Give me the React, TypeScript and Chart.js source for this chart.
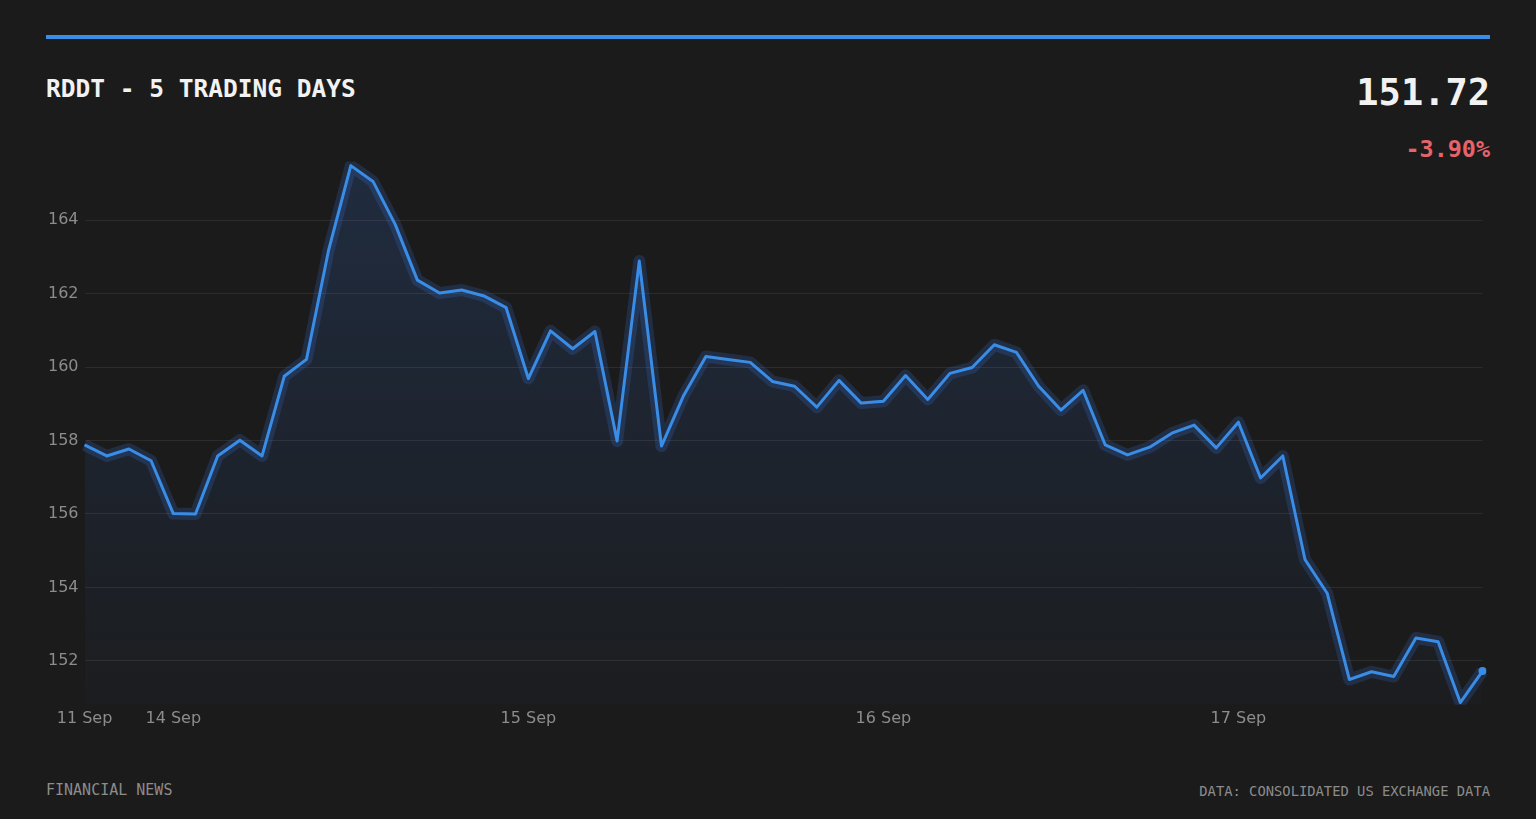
import { useEffect, useRef } from "react"
import { Chart, registerables } from "chart.js"

Chart.register(...registerables)

// intraday closes, 64 samples across 5 sessions
const prices = [
  157.88, 157.58, 157.77, 157.45, 156.01, 156.0, 157.58, 158.01, 157.58, 159.75,
  160.21, 163.19, 165.49, 165.06, 163.89, 162.37, 162.02, 162.1, 161.94, 161.62,
  159.69, 160.99, 160.5, 160.97, 157.99, 162.89, 157.85, 159.23, 160.29, 160.21,
  160.13, 159.61, 159.48, 158.91, 159.64, 159.02, 159.07, 159.77, 159.12, 159.83,
  159.99, 160.61, 160.4, 159.48, 158.83, 159.37, 157.88, 157.61, 157.82, 158.2,
  158.42, 157.8, 158.5, 156.98, 157.58, 154.76, 153.84, 151.49, 151.7, 151.57,
  152.62, 152.52, 150.86, 151.72,
]

const dayLabels = ["11 Sep", "14 Sep", "15 Sep", "16 Sep", "17 Sep"]
const dayStartIndex = [0, 4, 20, 36, 52]

const lastPrice = "151.72"
const changePct = "-3.90%"

const BLUE = "#3a8de6"
const BG = "#1b1b1b"
const MONO = "'DejaVu Sans Mono', monospace"

export default function App() {
  const chartRef = useRef<HTMLCanvasElement>(null)
  const chartInstance = useRef<Chart | null>(null)

  useEffect(() => {
    document.body.style.margin = "0"
    document.body.style.background = BG
  }, [])

  useEffect(() => {
    if (!chartRef.current) return
    const ctx = chartRef.current.getContext("2d")
    if (!ctx) return

    if (chartInstance.current) {
      chartInstance.current.destroy()
    }

    const labels = prices.map((_, i) => {
      const k = dayStartIndex.indexOf(i)
      return k >= 0 ? dayLabels[k] : ""
    })
    const last = prices.length - 1

    chartInstance.current = new Chart(ctx, {
      type: "line",
      data: {
        labels,
        datasets: [
          {
            // main line with area fill
            data: prices,
            borderColor: BLUE,
            borderWidth: 3,
            borderJoinStyle: "round",
            tension: 0,
            fill: "start",
            backgroundColor: (c: any) => {
              const area = c.chart.chartArea
              if (!area) return "rgba(59,130,246,0.1)"
              const g = c.chart.ctx.createLinearGradient(0, area.top, 0, area.bottom)
              g.addColorStop(0, "rgba(59,130,246,0.17)")
              g.addColorStop(1, "rgba(59,130,246,0.02)")
              return g
            },
            pointRadius: (c: any) => (c.dataIndex === last ? 4 : 0),
            pointBackgroundColor: BLUE,
            pointBorderWidth: 0,
            order: 1,
          },
          {
            // soft glow under the line
            data: prices,
            borderColor: "rgba(59,130,246,0.18)",
            borderWidth: 12,
            borderJoinStyle: "round",
            tension: 0,
            fill: false,
            pointRadius: 0,
            order: 2,
          },
        ],
      },
      options: {
        responsive: true,
        maintainAspectRatio: false,
        animation: false,
        layout: { padding: { top: 9, right: 8, left: 0, bottom: 4 } },
        plugins: {
          legend: { display: false },
          tooltip: { enabled: false },
        },
        scales: {
          x: {
            grid: { display: false, drawTicks: false },
            border: { display: false },
            ticks: {
              autoSkip: false,
              maxRotation: 0,
              padding: 4,
              color: "#8c8c8c",
              font: { family: "'DejaVu Sans', sans-serif", size: 16 },
            },
          },
          y: {
            min: 150.8,
            max: 165.6,
            afterBuildTicks: (scale: any) => {
              scale.ticks = []
              for (let v = 152; v <= 164; v += 2) scale.ticks.push({ value: v })
            },
            grid: { color: "rgba(255,255,255,0.08)", drawTicks: false },
            border: { display: false },
            ticks: {
              padding: 6,
              color: "#8c8c8c",
              font: { family: "'DejaVu Sans', sans-serif", size: 16 },
            },
          },
        },
      },
    })

    return () => {
      if (chartInstance.current) {
        chartInstance.current.destroy()
        chartInstance.current = null
      }
    }
  }, [])

  return (
    <div style={{ position: "relative", width: 1536, height: 819, background: BG, overflow: "hidden" }}>
      <div style={{ position: "absolute", left: 46, top: 35, width: 1444, height: 4, background: BLUE }} />
      <div
        style={{
          position: "absolute",
          left: 46,
          top: 73,
          fontFamily: MONO,
          fontWeight: "bold",
          fontSize: 24.5,
          color: "#f2f2f2",
          lineHeight: "32px",
        }}
      >
        RDDT - 5 TRADING DAYS
      </div>
      <div
        style={{
          position: "absolute",
          right: 46,
          top: 70,
          fontFamily: MONO,
          fontWeight: "bold",
          fontSize: 37,
          color: "#f2f2f2",
          lineHeight: "46px",
          textAlign: "right",
        }}
      >
        {lastPrice}
      </div>
      <div
        style={{
          position: "absolute",
          right: 46,
          top: 134,
          fontFamily: MONO,
          fontWeight: "bold",
          fontSize: 23.4,
          color: "#e5636a",
          lineHeight: "30px",
          textAlign: "right",
        }}
      >
        {changePct}
      </div>
      <div style={{ position: "absolute", left: 41.5, top: 146, width: 1448.5, height: 590 }}>
        <canvas ref={chartRef} />
      </div>
      <div
        style={{
          position: "absolute",
          left: 46,
          top: 780,
          fontFamily: MONO,
          fontSize: 15,
          color: "#8c8c8c",
          lineHeight: "20px",
        }}
      >
        FINANCIAL NEWS
      </div>
      <div
        style={{
          position: "absolute",
          right: 46,
          top: 781,
          fontFamily: MONO,
          fontSize: 13.8,
          color: "#8c8c8c",
          lineHeight: "20px",
        }}
      >
        DATA: CONSOLIDATED US EXCHANGE DATA
      </div>
    </div>
  )
}
